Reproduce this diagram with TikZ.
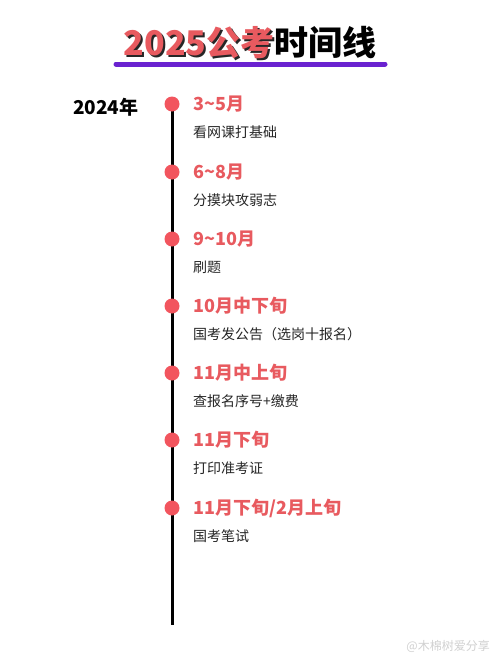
\documentclass[tikz,border=0pt]{standalone}
\usepackage{fontspec}
\newfontfamily\cjk{Noto Sans CJK SC}
\definecolor{hred}{HTML}{E85A5F}
\definecolor{dotred}{HTML}{F2555E}
\definecolor{tpurple}{HTML}{6A22D0}
\definecolor{subgray}{HTML}{262626}
\begin{document}
\begin{tikzpicture}[x=1pt,y=-1pt,
  dot/.style={circle,fill=dotred,inner sep=0pt,minimum size=15pt},
  head/.style={anchor=west,inner sep=0pt,text=hred,font=\cjk\bfseries\fontsize{18}{20}\selectfont},
  sub/.style={anchor=west,inner sep=0pt,text=subgray,font=\cjk\fontsize{14}{16}\selectfont},
]
\useasboundingbox[fill=white] (0,0) rectangle (500,667);
% title (with shadow drawn inside the same node)
\node[inner sep=0pt,font=\cjk\bfseries\fontsize{34}{36}\selectfont] (title) at (250,44)
  {\makebox[0pt][l]{\kern2pt\raisebox{-2pt}{\textcolor{black!85}{2025公考}}}\textcolor{hred}{2025公考}时间线};
\coordinate (ul1) at (116,64);
\coordinate (ul2) at (385,64);
\draw[tpurple,line width=5pt,line cap=round] (ul1) -- (ul2);
% year
\node[anchor=west,inner sep=0pt,font=\cjk\bfseries\fontsize{19}{21}\selectfont] (year) at (73,107) {2024年};
% timeline
\coordinate (ltop) at (172,104);
\coordinate (lbot) at (172,625);
\draw[black,line width=3pt] (ltop) -- (lbot);
\foreach \i/\y/\h/\s in {1/104/3\textasciitilde5月/看网课打基础,
                          2/172/6\textasciitilde8月/分摸块攻弱志,
                          3/239/9\textasciitilde10月/刷题,
                          4/306/10月中下旬/国考发公告（选岗十报名）,
                          5/373/11月中上旬/查报名序号+缴费,
                          6/440/11月下旬/打印准考证,
                          7/508/11月下旬{/}2月上旬/国考笔试}{
  \node[dot] (d\i) at (172,\y) {};
  \node[head] (h\i) at (193,\y) {\h};
  \node[sub] (s\i) at (193,\y+28) {\s};
}
% watermark
\node[anchor=east,inner sep=0pt,text=black!18,font=\cjk\fontsize{12}{14}\selectfont] (wm) at (490,646) {@木棉树爱分享};
\end{tikzpicture}
\end{document}
